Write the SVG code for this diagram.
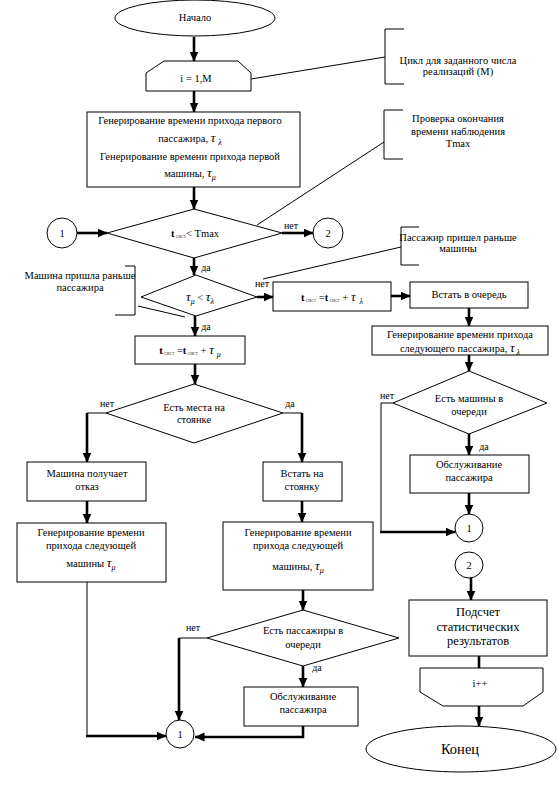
<svg xmlns="http://www.w3.org/2000/svg" width="559" height="795" viewBox="0 0 559 795">
<style>
.s{fill:#fff;stroke:#000;stroke-width:1}
.t{font-family:"Liberation Serif","Times New Roman",serif;font-size:10.5px;text-anchor:middle;fill:#000}
.big{font-size:12.5px}
.end{font-size:14.5px}
.lb{font-family:"Liberation Serif",serif;font-size:10px;fill:#000;text-anchor:middle}
.g{font-size:13px;font-style:italic}
.sb{font-size:8px;font-style:italic}
.ss{font-size:5.5px;fill:#555}
.thin{fill:none;stroke:#000;stroke-width:1}
.thick{fill:none;stroke:#000;stroke-width:2.6}
.ar{marker-end:url(#ah)}
</style>
<defs>
<marker id="ah" markerUnits="userSpaceOnUse" markerWidth="11" markerHeight="10" refX="9.5" refY="4.5" orient="auto">
<path d="M0,0 L10,4.5 L0,9 z" fill="#000"/>
</marker>
</defs>
<rect width="559" height="795" fill="#fff"/>

<g id="connectors">
<path class="thick ar" d="M194,37 V61"/>
<path class="thick ar" d="M194,91 V112"/>
<path class="thick ar" d="M194,187 V209"/>
<path class="thick ar" d="M77,233 H107"/>
<path class="thick ar" d="M282,233 H313"/>
<path class="thick ar" d="M194,258 V275"/>
<path class="thick ar" d="M257,297 H273"/>
<path class="thick ar" d="M391,296 H410"/>
<path class="thick ar" d="M469,308 V326"/>
<path class="thick ar" d="M469,355 V371"/>
<path class="thin" d="M393,403 H381 V532"/>
<path class="thick ar" d="M380,532 H455"/>
<path class="thick ar" d="M469,434 V455"/>
<path class="thick ar" d="M469,493 V514"/>
<path class="thick ar" d="M471,578 V600"/>
<path class="thick ar" d="M479,656 V684"/>
<path class="thick ar" d="M479,706 V726"/>
<path class="thick ar" d="M195,316 V336"/>
<path class="thick ar" d="M195,364 V384"/>
<path class="thin" d="M106,413 H87"/>
<path class="thick ar" d="M87,413 V462"/>
<path class="thin" d="M283,413 H302"/>
<path class="thick ar" d="M302,413 V462"/>
<path class="thick ar" d="M87,501 V523"/>
<path class="thick ar" d="M302,501 V522"/>
<path class="thin" d="M87,582 V736"/>
<path class="thick ar" d="M86,736 H166"/>
<path class="thick ar" d="M303,590 V610"/>
<path class="thin" d="M207,638 H179"/>
<path class="thick ar" d="M179,638 V720"/>
<path class="thick ar" d="M303,666 V687"/>
<path class="thick ar" d="M303,726 V737 H195"/>
<text class="lb" x="291" y="229">нет</text>
<text class="lb" x="206" y="271">да</text>
<text class="lb" x="262" y="287">нет</text>
<text class="lb" x="206" y="330">да</text>
<text class="lb" x="107" y="407">нет</text>
<text class="lb" x="290" y="407">да</text>
<text class="lb" x="387" y="399">нет</text>
<text class="lb" x="484" y="450">да</text>
<text class="lb" x="193" y="631">нет</text>
<text class="lb" x="317" y="671">да</text>
</g>

<g id="start">
<ellipse class="s" cx="195" cy="18" rx="80" ry="18"/>
<text class="t" x="195" y="21">Начало</text>
</g>

<g id="loop-begin">
<polygon class="s" points="164,61 238,61 251,73 251,91 146,91 146,73"/>
<text class="t" x="196" y="82">i = 1,M</text>
</g>

<g id="note-loop">
<path class="thin" d="M251,79 L385,57"/>
<path class="thin" d="M404,29 H385 V84 H404"/>
<text class="t" x="458" y="64">Цикл для заданного числа</text>
<text class="t" x="458" y="75">реализаций (М)</text>
</g>

<g id="gen-first">
<rect class="s" x="87" y="112" width="213" height="75"/>
<text class="t" x="190" y="124">Генерирование времени прихода первого</text>
<text class="t" x="190" y="142">пассажира, <tspan class="g">τ</tspan><tspan class="sb" dx="3" dy="3">λ</tspan></text>
<text class="t" x="190" y="160">Генерирование времени прихода первой</text>
<text class="t" x="190" y="177">машины, <tspan class="g">τ</tspan><tspan class="sb" dy="3">μ</tspan></text>
</g>

<g id="cond-tmax">
<polygon class="s" points="194,209 282,233 194,258 107,233"/>
<text class="t" x="195" y="237"><tspan font-weight="bold">t</tspan><tspan class="ss" dy="1"> сист</tspan><tspan dy="-1">&lt; Tmax</tspan></text>
</g>

<g id="conn1-top">
<circle class="s" cx="62" cy="233" r="15"/>
<text class="t" x="62" y="237">1</text>
</g>

<g id="conn2-top">
<circle class="s" cx="328" cy="233" r="15"/>
<text class="t" x="328" y="237">2</text>
</g>

<g id="note-tmax">
<path class="thin" d="M257,225 L384,142"/>
<path class="thin" d="M403,110 H384 V159 H403"/>
<text class="t" x="458" y="122">Проверка окончания</text>
<text class="t" x="458" y="135">времени наблюдения</text>
<text class="t" x="458" y="147">Tmax</text>
</g>

<g id="cond-tau">
<polygon class="s" points="196,275 257,297 196,316 141,297"/>
<text class="t" x="200" y="301"><tspan class="g">τ</tspan><tspan class="sb" dy="3">μ</tspan><tspan dy="-3"> &lt; </tspan><tspan class="g">τ</tspan><tspan class="sb" dy="3">λ</tspan></text>
</g>

<g id="note-car">
<path class="thin" d="M125,266 H135 V315 H115"/>
<path class="thin" d="M138,306 L185,317"/>
<text class="t" x="80" y="279">Машина пришла раньше</text>
<text class="t" x="80" y="291">пассажира</text>
</g>

<g id="note-pass">
<path class="thin" d="M401,247 L263,279"/>
<path class="thin" d="M419,227 H401 V265 H419"/>
<text class="t" x="458" y="241">Пассажир пришел раньше</text>
<text class="t" x="458" y="252">машины</text>
</g>

<g id="tsys-pass">
<rect class="s" x="273" y="282" width="118" height="29"/>
<text class="t" x="332" y="301"><tspan font-weight="bold">t</tspan><tspan class="ss" dy="1"> сист</tspan><tspan dy="-1"> =</tspan><tspan font-weight="bold">t</tspan><tspan class="ss" dy="1"> сист</tspan><tspan dy="-1"> + </tspan><tspan class="g">τ</tspan><tspan class="sb" dx="4" dy="3">λ</tspan></text>
</g>

<g id="queue">
<rect class="s" x="410" y="282" width="118" height="26"/>
<text class="t" x="469" y="298">Встать в очередь</text>
</g>

<g id="gen-next-pass">
<rect class="s" x="372" y="326" width="176" height="29"/>
<text class="t" x="460" y="338">Генерирование времени прихода</text>
<text class="t" x="460" y="352">следующего пассажира, <tspan class="g">τ</tspan><tspan class="sb" dx="2" dy="3">λ</tspan></text>
</g>

<g id="cond-cars">
<polygon class="s" points="469,371 547,403 469,434 393,403"/>
<text class="t" x="469" y="402">Есть машины в</text>
<text class="t" x="469" y="415">очереди</text>
</g>

<g id="serve-right">
<rect class="s" x="410" y="455" width="119" height="38"/>
<text class="t" x="469" y="468">Обслуживание</text>
<text class="t" x="469" y="481">пассажира</text>
</g>

<g id="conn1-right">
<circle class="s" cx="469" cy="528" r="14"/>
<text class="t" x="469" y="532">1</text>
</g>

<g id="conn2-bottom">
<ellipse class="s" cx="469" cy="565" rx="14" ry="13"/>
<text class="t" x="469" y="569">2</text>
</g>

<g id="stats">
<rect class="s" x="409" y="600" width="138" height="56"/>
<text class="t big" x="478" y="616">Подсчет</text>
<text class="t big" x="478" y="631">статистических</text>
<text class="t big" x="478" y="645">результатов</text>
</g>

<g id="loop-end">
<polygon class="s" points="420,668 543,668 543,692 523,706 443,706 420,692"/>
<text class="t" x="480" y="687">i++</text>
</g>

<g id="end">
<ellipse class="s" cx="461" cy="749" rx="95" ry="23"/>
<text class="t end" x="460" y="754">Конец</text>
</g>

<g id="tsys-car">
<rect class="s" x="135" y="336" width="110" height="28"/>
<text class="t" x="190" y="354"><tspan font-weight="bold">t</tspan><tspan class="ss" dy="1"> сист</tspan><tspan dy="-1"> =</tspan><tspan font-weight="bold">t</tspan><tspan class="ss" dy="1"> сист</tspan><tspan dy="-1"> + </tspan><tspan class="g">τ</tspan><tspan class="sb" dx="3" dy="3">μ</tspan></text>
</g>

<g id="cond-places">
<polygon class="s" points="194,384 283,413 194,443 106,413"/>
<text class="t" x="194" y="411">Есть места на</text>
<text class="t" x="194" y="423">стоянке</text>
</g>

<g id="refuse">
<rect class="s" x="27" y="462" width="119" height="39"/>
<text class="t" x="87" y="477">Машина получает</text>
<text class="t" x="87" y="490">отказ</text>
</g>

<g id="park">
<rect class="s" x="263" y="462" width="79" height="39"/>
<text class="t" x="302" y="477">Встать на</text>
<text class="t" x="302" y="490">стоянку</text>
</g>

<g id="gen-next-car-left">
<rect class="s" x="17" y="523" width="149" height="59"/>
<text class="t" x="91" y="536">Генерирование времени</text>
<text class="t" x="91" y="549">прихода следующей</text>
<text class="t" x="91" y="567">машины <tspan class="g">τ</tspan><tspan class="sb" dy="3">μ</tspan></text>
</g>

<g id="gen-next-car-mid">
<rect class="s" x="223" y="522" width="150" height="68"/>
<text class="t" x="298" y="536">Генерирование времени</text>
<text class="t" x="298" y="549">прихода следующей</text>
<text class="t" x="298" y="570">машины, <tspan class="g">τ</tspan><tspan class="sb" dy="3">μ</tspan></text>
</g>

<g id="cond-pass">
<polygon class="s" points="303,610 399,638 303,666 207,638"/>
<text class="t" x="303" y="634">Есть пассажиры в</text>
<text class="t" x="303" y="648">очереди</text>
</g>

<g id="serve-mid">
<rect class="s" x="244" y="687" width="114" height="39"/>
<text class="t" x="303" y="700">Обслуживание</text>
<text class="t" x="303" y="713">пассажира</text>
</g>

<g id="conn1-bottom">
<circle class="s" cx="180" cy="734" r="14"/>
<text class="t" x="180" y="738">1</text>
</g>
</svg>
